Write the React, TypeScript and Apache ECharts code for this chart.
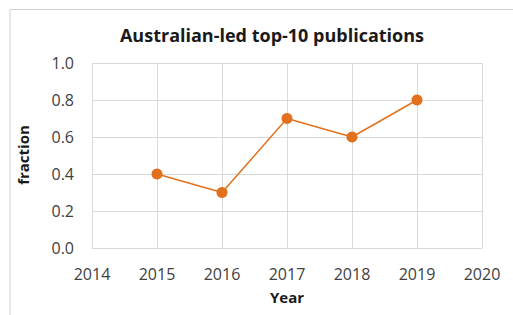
import React, { useEffect, useRef } from "react";
import * as echarts from "echarts";

const years = [2015, 2016, 2017, 2018, 2019];
const fractions = [0.4, 0.3, 0.7, 0.6, 0.8];
const titleText = "Australian-led top-10 publications";
const xName = "Year";
const yName = "fraction";

export default function App() {
  const ref = useRef<HTMLDivElement>(null);
  useEffect(() => {
    document.body.style.margin = "0";
    const chart = echarts.init(ref.current!, null, { renderer: "svg" });
    const font = "'Open Sans', sans-serif";
    chart.setOption({
      animation: false,
      backgroundColor: "#ffffff",
      title: {
        text: titleText,
        left: 267,
        top: 21,
        textAlign: "center",
        textStyle: { fontFamily: font, fontSize: 18, fontWeight: "bold", color: "#1a1a1a" },
      },
      graphic: [
        {
          type: "polyline",
          shape: { points: [[10, 320], [10, 9.5], [520, 9.5]] },
          style: { stroke: "#d0d0d0", lineWidth: 1, fill: "none" },
          silent: true,
        },
        {
          type: "text",
          x: 23,
          y: 155,
          rotation: Math.PI / 2,
          style: {
            text: yName,
            fontFamily: font,
            fontSize: 15,
            fontWeight: "bold",
            fill: "#1a1a1a",
            align: "center",
            verticalAlign: "middle",
          },
        },
      ],
      grid: { left: 92, top: 63, right: 31, bottom: 67 },
      xAxis: {
        type: "value",
        min: 2014,
        max: 2020,
        interval: 1,
        name: xName,
        nameLocation: "middle",
        nameGap: 41,
        nameTextStyle: { fontFamily: font, fontSize: 15, fontWeight: "bold", color: "#1a1a1a" },
        axisLine: { show: true, lineStyle: { color: "#d9d9d9" } },
        axisTick: { show: false },
        axisLabel: {
          fontFamily: font,
          fontSize: 16,
          color: "#404040",
          margin: 18,
          formatter: (v: number) => String(v),
        },
        splitLine: { show: true, lineStyle: { color: "#d9d9d9" } },
      },
      yAxis: {
        type: "value",
        min: 0,
        max: 1,
        interval: 0.2,
        axisLine: { show: false },
        axisTick: { show: false },
        axisLabel: {
          fontFamily: font,
          fontSize: 16,
          color: "#404040",
          margin: 18,
          formatter: (v: number) => v.toFixed(1),
        },
        splitLine: { show: true, lineStyle: { color: "#d9d9d9" } },
      },
      series: [
        {
          type: "line",
          data: years.map((y, i) => [y, fractions[i]]),
          symbol: "circle",
          symbolSize: 11,
          itemStyle: { color: "#E2711D" },
          lineStyle: { color: "#E2711D", width: 1.5 },
        },
      ],
    });
    return () => chart.dispose();
  }, []);
  return <div ref={ref} style={{ width: 513, height: 315, position: "absolute", left: 0, top: 0 }} />;
}
